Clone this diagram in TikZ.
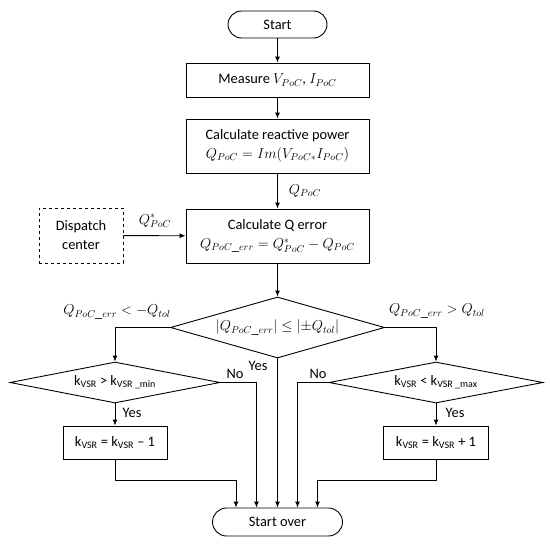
\documentclass[tikz,border=0pt]{standalone}
\usepackage{fontspec}
\setmainfont{Carlito}
\usetikzlibrary{arrows.meta,shapes.geometric,calc}
\begin{document}
\begin{tikzpicture}[x=1pt,y=-1pt,
  every node/.style={font=\fontsize{14.4}{19}\selectfont},
  box/.style={draw,line width=0.9pt,rectangle,inner sep=0pt,align=center},
  pill/.style={draw,line width=0.9pt,rectangle,inner sep=0pt},
  dia/.style={draw,line width=0.9pt,diamond,inner sep=0pt},
  arr/.style={line width=0.9pt,-{Latex[length=6pt,width=5pt]}},
  lbl/.style={inner sep=1pt}]
\useasboundingbox (0,0) rectangle (550,546);
% nodes
\node[pill,minimum width=99pt,minimum height=27pt,rounded corners=13.5pt] (start) at (277.5,24.5) {Start};
\node[box,minimum width=183pt,minimum height=34pt] (meas) at (277.5,80) {Measure $V_{PoC}$, $I_{PoC}$};
\node[box,minimum width=183pt,minimum height=54pt] (react) at (277.5,146) {Calculate reactive power\\$Q_{PoC}=Im(V_{PoC*}I_{PoC})$};
\node[box,minimum width=183pt,minimum height=54pt] (qerr) at (277.5,236) {Calculate Q error\\$Q_{PoC\_err}=Q^*_{PoC}-Q_{PoC}$};
\node[box,dashed,minimum width=84pt,minimum height=55pt] (disp) at (81,235.5) {Dispatch\\center};
\node[dia,aspect=3.5,minimum width=214pt,minimum height=61pt] (main) at (277.5,327.5) {$\left|Q_{PoC\_err}\right| \le |{\pm}Q_{tol}|$};
\node[dia,aspect=5,minimum width=210pt,minimum height=41pt] (ldia) at (115,382.5) {k\textsubscript{VSR} > k\textsubscript{VSR \_min}};
\node[dia,aspect=5,minimum width=214pt,minimum height=41pt] (rdia) at (436,382.5) {k\textsubscript{VSR} < k\textsubscript{VSR \_max}};
\node[box,minimum width=104pt,minimum height=33pt] (lbox) at (115,442.5) {k\textsubscript{VSR} = k\textsubscript{VSR} – 1};
\node[box,minimum width=105pt,minimum height=33pt] (rbox) at (436,442.5) {k\textsubscript{VSR} = k\textsubscript{VSR} + 1};
\node[pill,minimum width=130pt,minimum height=28pt,rounded corners=14pt] (over) at (277.5,522) {Start over};
% labels
\node[lbl] (lq) at (305,191) {$Q_{PoC}$};
\node[lbl] (lqs) at (155,221) {$Q^*_{PoC}$};
\node[lbl] (lneg) at (117,312) {$Q_{PoC\_err} < -Q_{tol}$};
\node[lbl] (lpos) at (437,311) {$Q_{PoC\_err} > Q_{tol}$};
\node[lbl] (ly1) at (132,413) {Yes};
\node[lbl] (ly2) at (455,413) {Yes};
\node[lbl] (ly3) at (258,366) {Yes};
\node[lbl] (ln1) at (235,374) {No};
\node[lbl] (ln2) at (318,374) {No};
% coordinates
\coordinate (i1) at ($(over.north)+(-41.5,0)$);
\coordinate (i2) at ($(over.north)+(-21,0)$);
\coordinate (i4) at ($(over.north)+(20,0)$);
\coordinate (i5) at ($(over.north)+(40,0)$);
\coordinate (lj) at (115,480);
\coordinate (rj) at (436,480);
% connectors
\draw[arr] (start) -- (meas);
\draw[arr] (meas) -- (react);
\draw[arr] (react) -- (qerr);
\draw[arr] (disp) -- (qerr);
\draw[arr] (qerr) -- (main);
\draw[arr] (main.west) -| (ldia.north);
\draw[arr] (main.east) -| (rdia.north);
\draw[arr] (ldia) -- (lbox);
\draw[arr] (rdia) -- (rbox);
\draw[arr] (lbox.south) -- (lj) -| (i1);
\draw[arr] (ldia.east) -| (i2);
\draw[arr] (main.south) -- (over.north);
\draw[arr] (rdia.west) -| (i4);
\draw[arr] (rbox.south) -- (rj) -| (i5);
\end{tikzpicture}
\end{document}
